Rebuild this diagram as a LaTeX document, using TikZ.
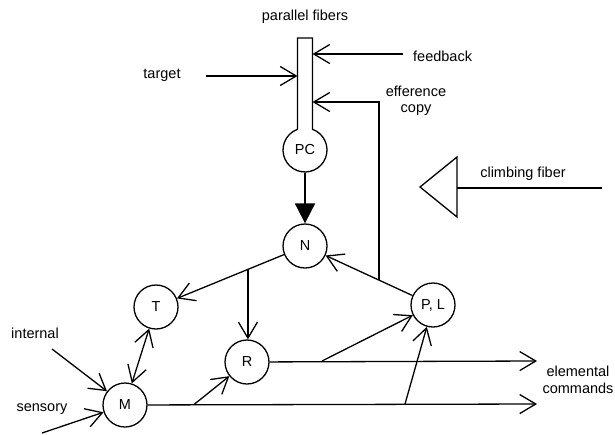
\documentclass[tikz,border=0pt]{standalone}
\usepackage{fontspec}
\setmainfont{Liberation Sans}
\usetikzlibrary{arrows.meta,calc}
\newcommand{\labelfont}{\fontsize{14.5pt}{17pt}\selectfont}
\tikzset{
  wire/.style={line width=1.3pt},
  unit/.style={circle,draw,line width=1.3pt,minimum size=44pt,inner sep=0pt,font=\labelfont},
  lbl/.style={font=\labelfont,inner sep=0pt},
  barb/.tip={Straight Barb[length=16pt,width=19pt,line width=1.3pt]},
  feed/.style={wire,-barb},
  twoway/.style={wire,barb-barb},
  strong/.style={line width=1.9pt,-{Triangle[length=20pt,width=20pt]}},
}
\begin{document}
\begin{tikzpicture}[x=1pt,y=-1pt]
\useasboundingbox (0,0) rectangle (615,434);

% Purkinje cell with its dendritic stem
\node[unit,draw=none] (PC) at (305,150) {PC};
\draw[wire] (297.5,129.3) -- (297.5,38) -- (312.5,38) -- (312.5,129.3)
  arc[start angle=-70.07, end angle=250.07, radius=22];

% units
\node[unit] (N)  at (305,246) {N};
\node[unit] (T)  at (156,307) {T};
\node[unit] (R)  at (247,362) {R};
\node[unit] (M)  at (125,405) {M};
\node[unit] (PL) at (433,305) {P, L};

% inputs to the stem
\coordinate (tgtsrc) at (206,76);
\coordinate (tgtin)  at (297.5,76);
\coordinate (fbsrc)  at (403,54);
\coordinate (fbin)   at (312.5,54);
\coordinate (ecin)   at (312.5,102);
\draw[feed] (tgtsrc) -- (tgtin);
\draw[feed] (fbsrc) -- (fbin);

% Purkinje cell to nucleus
\draw[strong] (PC) -- (N);

% nucleus outputs
\draw[feed] (N) -- (T);
\coordinate (nsplit) at ($(N)!0.383!(T)$);
\draw[feed] (nsplit) -- (nsplit |- R.north);

% P,L back to nucleus, with efference copy tap
\draw[feed] (PL) -- (N);
\coordinate (ectap) at ($(PL)!0.422!(N)$);
\draw[feed] (ectap) |- (ecin);

% T <-> M
\draw[twoway] (T) -- (M);

% inputs to M
\coordinate (intsrc) at (52,349);
\coordinate (sensrc) at (42,433);
\draw[feed] (intsrc) -- (M);
\draw[feed] (sensrc) -- (M);

% elemental command lines
\coordinate (cmdA) at (537,361);
\coordinate (cmdB) at (537,404);
\draw[feed] (R) -- (cmdA);
\draw[feed] (M) -- (cmdB);
\coordinate (mtap)  at (194,404.5);
\coordinate (rtap)  at (322,361);
\coordinate (mtap2) at (405,404);
\draw[feed] (mtap) -- (R);
\draw[feed] (rtap) -- (PL);
\draw[feed] (mtap2) -- (PL);

% climbing fiber
\coordinate (cfbase) at (457,188);
\coordinate (cfsrc)  at (602,188);
\draw[wire,line join=miter] (420,187) -- (457,157) -- (457,217) -- cycle;
\draw[wire] (cfsrc) -- (cfbase);

% labels
\node[lbl,anchor=base] (lpf) at (305,20) {parallel fibers};
\node[lbl,anchor=base] (ltgt) at (162,78) {target};
\node[lbl,anchor=base west] (lfb) at (413,61) {feedback};
\node[lbl,anchor=base] (lec1) at (416,96) {efference};
\node[lbl,anchor=base] (lec2) at (416,112) {copy};
\node[lbl,anchor=base] (lcf) at (523,177) {climbing fiber};
\node[lbl,anchor=base] (lint) at (35,338) {internal};
\node[lbl,anchor=base] (lsen) at (42,411) {sensory};
\node[lbl,anchor=base] (lel1) at (578,376) {elemental};
\node[lbl,anchor=base] (lel2) at (578,393) {commands};
\end{tikzpicture}
\end{document}
